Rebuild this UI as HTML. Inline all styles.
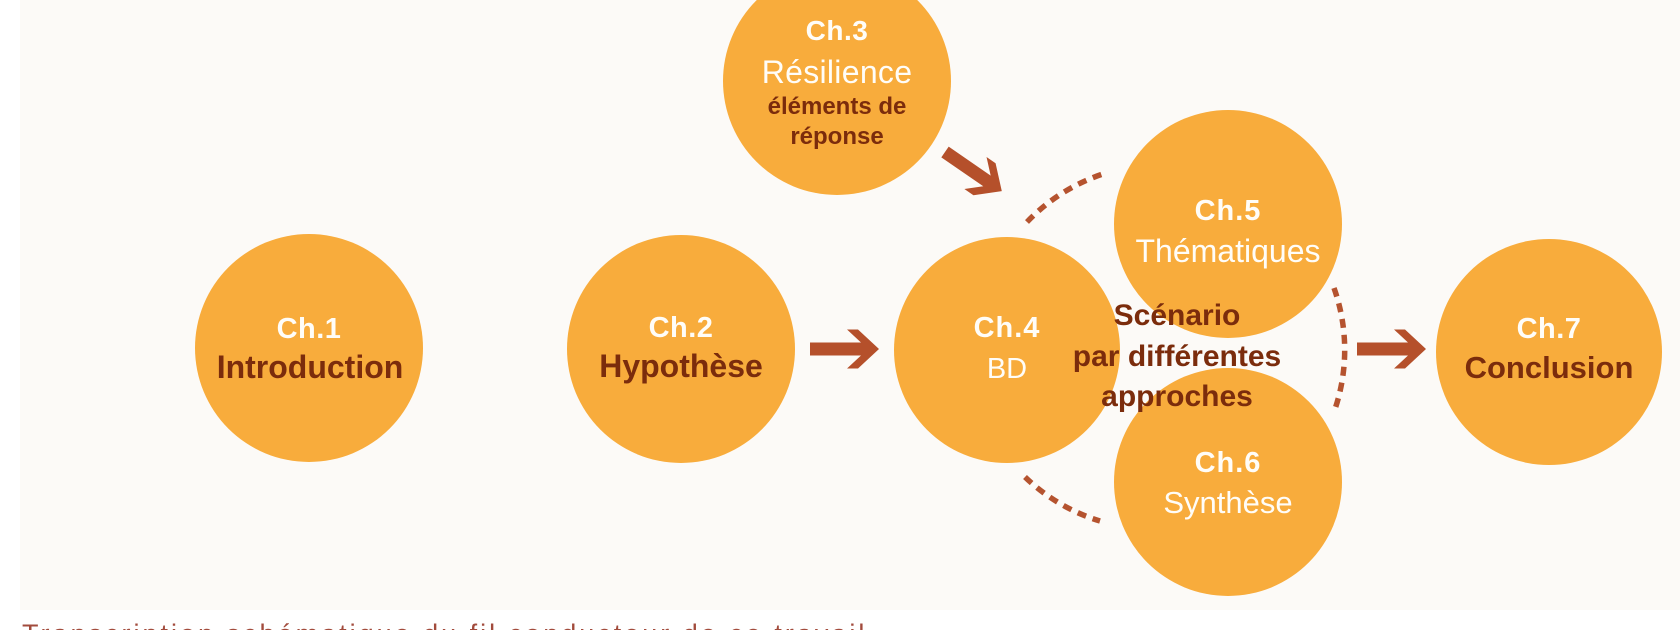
<!DOCTYPE html>
<html>
<head>
<meta charset="utf-8">
<style>
  html, body { margin: 0; padding: 0; background: #ffffff; }
  body { width: 1680px; height: 630px; overflow: hidden; }
  svg { display: block; }
  text { font-family: "Liberation Sans", "DejaVu Sans", sans-serif; }
</style>
</head>
<body>
<svg width="1680" height="630" viewBox="0 0 1680 630" xmlns="http://www.w3.org/2000/svg">
  <!-- background panel -->
  <rect x="0" y="0" width="1680" height="630" fill="#ffffff"/>
  <rect x="20" y="0" width="1660" height="610" fill="#fcfaf7"/>

  <!-- dashed arcs (center 1160,350 r 185) -->
  <g fill="none" stroke="#b5532f" stroke-width="5.5" stroke-dasharray="9 7">
    <path d="M 1027 222 A 185 185 0 0 1 1106 173"/>
    <path d="M 1025 477 A 185 185 0 0 0 1100 521"/>
    <path d="M 1334 288 A 185 185 0 0 1 1334 412"/>
  </g>

  <!-- circles -->
  <g fill="#f8ac3c">
    <circle cx="309" cy="348" r="114"/>
    <circle cx="681" cy="349" r="114"/>
    <circle cx="837" cy="81" r="114"/>
    <circle cx="1007" cy="350" r="113"/>
    <circle cx="1228" cy="224" r="114"/>
    <circle cx="1228" cy="482" r="114"/>
    <circle cx="1549" cy="352" r="113"/>
  </g>

  <!-- arrows -->
  <g fill="#b5502b">
    <polygon transform="translate(810,349)" points="0,-6.5 51,-6.5 37,-19.5 48,-19.5 69,0 48,19.5 37,19.5 51,6.5 0,6.5"/>
    <polygon transform="translate(1357,349)" points="0,-6.5 51,-6.5 37,-19.5 48,-19.5 69,0 48,19.5 37,19.5 51,6.5 0,6.5"/>
    <polygon transform="translate(945,152) rotate(34.6)" points="0,-6.5 51,-6.5 37,-19.5 48,-19.5 69,0 48,19.5 37,19.5 51,6.5 0,6.5"/>
  </g>

  <g text-anchor="middle">
    <!-- Ch.1 -->
    <text x="309" y="338" font-size="29" font-weight="bold" fill="#fffdf8" letter-spacing="0.5">Ch.1</text>
    <text x="310" y="378" font-size="32" font-weight="bold" fill="#7b2c0c">Introduction</text>

    <!-- Ch.2 -->
    <text x="681" y="337" font-size="29" font-weight="bold" fill="#fffdf8" letter-spacing="0.5">Ch.2</text>
    <text x="681" y="377" font-size="32" font-weight="bold" fill="#7b2c0c">Hypothèse</text>

    <!-- Ch.3 -->
    <text x="837" y="40" font-size="28" font-weight="bold" fill="#fffdf8" letter-spacing="0.5">Ch.3</text>
    <text x="837" y="83" font-size="32" fill="#fffdf8" letter-spacing="0.3">Résilience</text>
    <text x="837" y="114" font-size="24" font-weight="bold" fill="#7b2c0c">éléments de</text>
    <text x="837" y="144" font-size="24" font-weight="bold" fill="#7b2c0c">réponse</text>

    <!-- Ch.4 -->
    <text x="1007" y="337" font-size="29" font-weight="bold" fill="#fffdf8" letter-spacing="1">Ch.4</text>
    <text x="1007" y="378" font-size="29" fill="#fffdf8">BD</text>

    <!-- Ch.5 -->
    <text x="1228" y="220" font-size="29" font-weight="bold" fill="#fffdf8" letter-spacing="1">Ch.5</text>
    <text x="1228" y="262" font-size="32" fill="#fffdf8">Thématiques</text>

    <!-- Ch.6 -->
    <text x="1228" y="472" font-size="29" font-weight="bold" fill="#fffdf8" letter-spacing="1">Ch.6</text>
    <text x="1228" y="513" font-size="31" fill="#fffdf8">Synthèse</text>

    <!-- Ch.7 -->
    <text x="1549" y="338" font-size="29" font-weight="bold" fill="#fffdf8" letter-spacing="0.5">Ch.7</text>
    <text x="1549" y="378" font-size="31" font-weight="bold" fill="#7b2c0c">Conclusion</text>

    <!-- center label -->
    <text x="1177" y="325" font-size="30" font-weight="bold" fill="#7b2c0c">Scénario</text>
    <text x="1177" y="366" font-size="30" font-weight="bold" fill="#7b2c0c">par différentes</text>
    <text x="1177" y="406" font-size="30" font-weight="bold" fill="#7b2c0c">approches</text>
  </g>

  <!-- caption (cut off at bottom) -->
  <text x="22" y="643" font-size="27" fill="#a24b3c" letter-spacing="3">Transcription schématique du fil conducteur de ce travail</text>
</svg>
</body>
</html>
